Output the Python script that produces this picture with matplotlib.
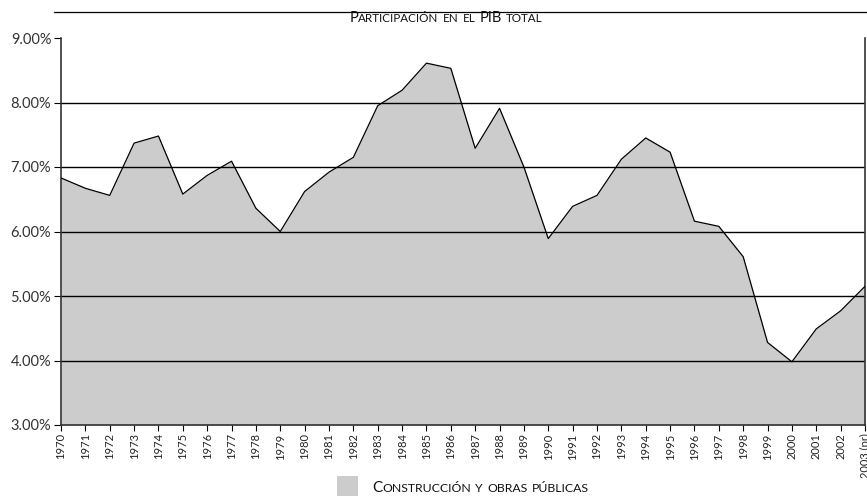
import matplotlib
matplotlib.use("Agg")
import matplotlib.pyplot as plt
from matplotlib.lines import Line2D
from matplotlib.patches import Rectangle

plt.rcParams['font.family'] = ['Lato', 'DejaVu Sans']

years = list(range(1970, 2004))
year_labels = [str(y) for y in years[:-1]] + ['2003 (pr)']
share = [6.83, 6.67, 6.56, 7.37, 7.48, 6.58, 6.87, 7.09, 6.36, 6.00,
         6.62, 6.92, 7.15, 7.95, 8.19, 8.61, 8.53, 7.29, 7.91, 7.00,
         5.89, 6.39, 6.56, 7.12, 7.45, 7.23, 6.16, 6.08, 5.61, 4.28,
         3.98, 4.49, 4.77, 5.15]
yticks = [3, 4, 5, 6, 7, 8, 9]

W, H = 867, 496
fig = plt.figure(figsize=(W / 100, H / 100), dpi=100)
ax = fig.add_axes([61 / W, 1 - 425 / H, (865 - 61) / W, (425 - 38) / H])

ax.fill_between(years, share, 3, color='#cccccc', lw=0, zorder=1)
ax.plot(years, share, color='black', lw=0.9, zorder=3)
for v in yticks[1:-1]:
    ax.axhline(v, color='black', lw=1.0, zorder=2)

ax.set_xlim(1970, 2003)
ax.set_ylim(3, 9)
ax.set_yticks(yticks)
ax.set_yticklabels(['%.2f%%' % v for v in yticks], fontsize=10.5, color='#333333')
ax.set_xticks(years)
ax.set_xticklabels(year_labels, rotation=90, fontsize=8, color='#222222')
ax.tick_params(axis='y', length=5, width=0.8, pad=2)
ax.tick_params(axis='x', length=4, width=0.8, pad=2)
for s in ['left', 'bottom', 'right']:
    ax.spines[s].set_linewidth(1.2)
    ax.spines[s].set_color('#333333')
ax.spines['top'].set_visible(False)

# line above the title
fig.add_artist(Line2D([54 / W, 1], [1 - 12 / H, 1 - 12 / H], color='black', lw=0.9))


def small_caps(x, y, s, size, va='center', ha='center'):
    # fake small caps: lowercase drawn as smaller capitals
    r = fig.canvas.get_renderer()
    items = []
    for wi, word in enumerate(s.split(' ')):
        if wi > 0:
            items.append((None, size * 0.4))
        runs = []
        for ch in word:
            big = not ch.islower()
            if runs and runs[-1][1] == big:
                runs[-1][0] += ch
            else:
                runs.append([ch, big])
        for txt, big in runs:
            fs = size if big else size * 0.8
            t = fig.text(0, 0, txt.upper(), fontsize=fs, va='baseline', ha='left',
                         color='#111111')
            items.append((t, t.get_window_extent(r).width))
    total = sum(wd for _, wd in items)
    px = x * W - (total / 2 if ha == 'center' else 0)
    for t, wd in items:
        if t is not None:
            t.set_position((px / W, y))
        px += wd


small_caps(446 / W, 1 - 22 / H, 'Participación en el PIB total', 10.5)
fig.add_artist(Rectangle((337 / W, 0), 21 / W, 20 / H, transform=fig.transFigure,
                         color='#cccccc', lw=0))
small_caps(372 / W, 1 - 492 / H, 'Construcción y obras públicas', 11, ha='left')

fig.savefig('out.png', dpi=100)
